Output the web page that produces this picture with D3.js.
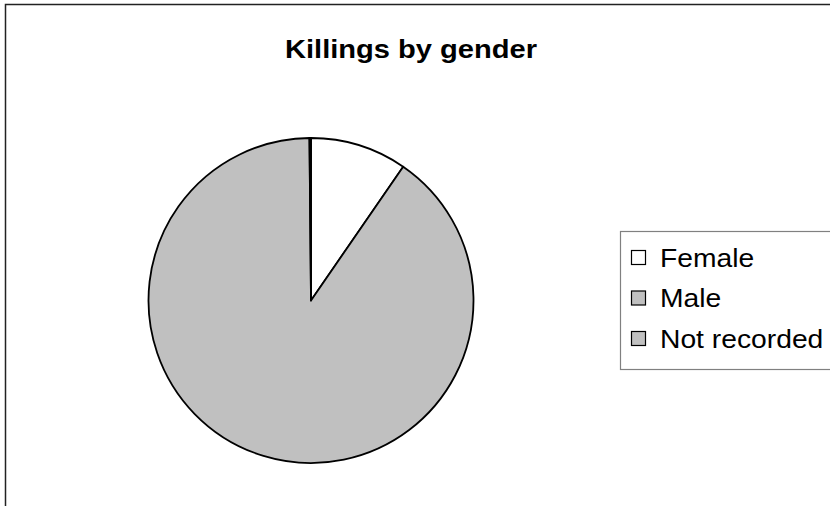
<!DOCTYPE html>
<html><head><meta charset="utf-8">
<script src="https://cdn.jsdelivr.net/npm/d3@7"></script>
<style>body{margin:0;background:#fff}svg{display:block}text{font-family:"Liberation Sans",Arial,sans-serif}</style>
</head><body>
<svg id="c" width="830" height="506"></svg>
<script>
const categories = ["Female", "Male", "Not recorded"];
const values = [9.6, 90.25, 0.15];
const colors = ["#ffffff", "#c0c0c0", "#c0c0c0"];
const title = "Killings by gender";

const svg = d3.select("#c");
// outer chart frame
svg.append("rect").attr("x",5.5).attr("y",4.5).attr("width",840).attr("height",520)
  .attr("fill","#fff").attr("stroke","#222").attr("stroke-width",1.5);

svg.append("text").attr("x",411).attr("y",58).attr("text-anchor","middle")
  .attr("font-size",25).attr("font-weight","bold")
  .attr("textLength",252).attr("lengthAdjust","spacingAndGlyphs").text(title);

const data = categories.map((c,i)=>({name:c,value:values[i],color:colors[i]}));
const pie = d3.pie().value(d=>d.value).sort(null);
const arc = d3.arc().innerRadius(0).outerRadius(162.5);
const g = svg.append("g").attr("transform","translate(311,300.5)");
g.selectAll("path").data(pie(data)).join("path")
  .attr("d",arc).attr("fill",d=>d.data.color)
  .attr("stroke","#000").attr("stroke-width",1.8).attr("stroke-linejoin","round");

// legend
const lg = svg.append("g");
lg.append("rect").attr("x",620.5).attr("y",231.5).attr("width",230).attr("height",138)
  .attr("fill","#fff").attr("stroke","#808080").attr("stroke-width",1.2);
const rows = lg.selectAll("g.row").data(data).join("g").attr("class","row")
  .attr("transform",(d,i)=>`translate(631,${257.5+i*40.5})`);
rows.append("rect").attr("x",0.5).attr("y",-7).attr("width",14).attr("height",14)
  .attr("fill",d=>d.color).attr("stroke","#000").attr("stroke-width",1.2);
rows.append("text").attr("x",29).attr("y",9).attr("font-size",25).text(d=>d.name)
  .each(function(){ const w=this.getComputedTextLength();
    d3.select(this).attr("textLength",w*1.13).attr("lengthAdjust","spacingAndGlyphs"); });
</script>
</body></html>
